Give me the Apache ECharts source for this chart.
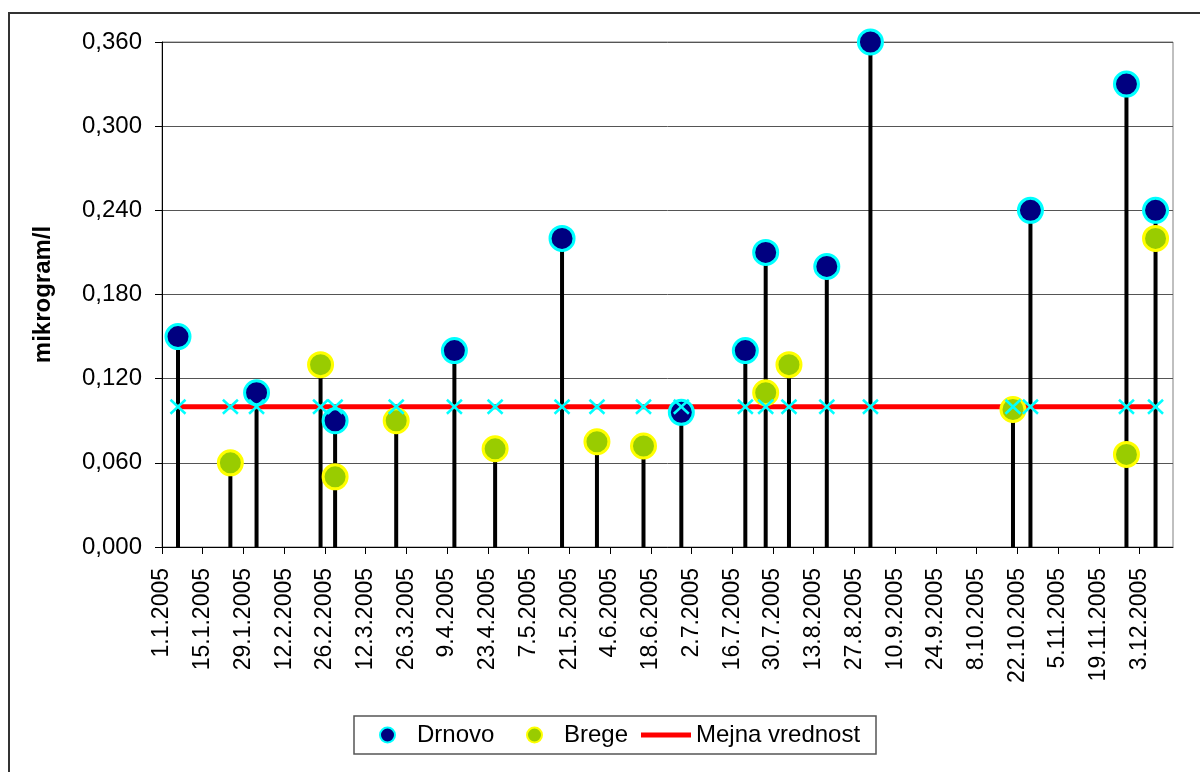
<!DOCTYPE html>
<html>
<head>
<meta charset="utf-8">
<script src="https://cdn.jsdelivr.net/npm/echarts@6/dist/echarts.min.js"></script>
<style>
  html, body { margin: 0; padding: 0; background: #fff; }
  #chart { width: 1200px; height: 772px; }
</style>
</head>
<body>
<div id="chart"></div>
<script>
// Sampling dates (d.m.yyyy) and measured concentrations in µg/l
const sampleDates = ['6.1.2005', '24.1.2005', '2.2.2005', '24.2.2005', '1.3.2005', '22.3.2005',
  '11.4.2005', '25.4.2005', '18.5.2005', '30.5.2005', '15.6.2005', '28.6.2005', '20.7.2005',
  '27.7.2005', '4.8.2005', '17.8.2005', '1.9.2005', '20.10.2005', '26.10.2005', '28.11.2005', '8.12.2005'];
const drnovo = [0.150, null, 0.110, null, 0.090, null, 0.140, null, 0.220, null, null, 0.096, 0.140,
  0.210, null, 0.200, 0.360, null, 0.240, 0.330, 0.240];
const brege = [null, 0.060, null, 0.130, 0.050, 0.090, null, 0.070, null, 0.075, 0.072, null, null,
  0.110, 0.130, null, null, 0.098, null, 0.066, 0.220];
const mejnaVrednost = [0.1, 0.1, 0.1, 0.1, 0.1, 0.1, 0.1, 0.1, 0.1, 0.1, 0.1, 0.1, 0.1, 0.1, 0.1,
  0.1, 0.1, 0.1, 0.1, 0.1, 0.1];

// Date-axis tick labels (every 14 days)
const tickDates = ['1.1.2005', '15.1.2005', '29.1.2005', '12.2.2005', '26.2.2005', '12.3.2005',
  '26.3.2005', '9.4.2005', '23.4.2005', '7.5.2005', '21.5.2005', '4.6.2005', '18.6.2005', '2.7.2005',
  '16.7.2005', '30.7.2005', '13.8.2005', '27.8.2005', '10.9.2005', '24.9.2005', '8.10.2005',
  '22.10.2005', '5.11.2005', '19.11.2005', '3.12.2005'];

const FONT = "'Liberation Sans', Arial, sans-serif";
const DAY_MS = 86400000;
const YEAR_START = Date.UTC(2005, 0, 1);

// Day number counted from 1.1.2005
function dayOf(s) {
  const [d, m, y] = s.split('.').map(Number);
  return (Date.UTC(y, m - 1, d) - YEAR_START) / DAY_MS;
}

const tickDays = tickDates.map(dayOf);
// Each sample is placed in the middle of its day slot on the date axis
const sampleX = sampleDates.map(s => dayOf(s) + 0.5);

function pairs(values) {
  const out = [];
  values.forEach((v, i) => { if (v != null) out.push([sampleX[i], v]); });
  return out;
}

const stemData = sampleX.map((x, i) => [x, Math.max(drnovo[i] ?? 0, brege[i] ?? 0)]);
const limitData = sampleX.map((x, i) => [x, mejnaVrednost[i]]);

const legendText = { fontSize: 24, color: '#000', fontFamily: FONT, lineHeight: 26 };

const chart = echarts.init(document.getElementById('chart'), null, { renderer: 'canvas' });

chart.setOption({
  animation: false,
  backgroundColor: '#fff',
  textStyle: { fontFamily: FONT },
  graphic: [
    {
      // outer chart frame
      type: 'rect',
      shape: { x: 9, y: 13, width: 1300, height: 900 },
      style: { fill: 'none', stroke: '#333', lineWidth: 2 },
      silent: true
    },
    {
      // legend box
      type: 'rect',
      shape: { x: 354, y: 716, width: 522, height: 38 },
      style: { fill: '#fff', stroke: '#555', lineWidth: 1.5 },
      silent: true,
      z: 0
    }
  ],
  grid: {
    left: 162, right: 27, top: 42, bottom: 225,
    show: true, borderColor: '#808080', borderWidth: 1, backgroundColor: 'transparent'
  },
  legend: [
    {
      left: 379, top: 722, padding: 0,
      itemWidth: 15, itemHeight: 15,
      textStyle: Object.assign({ padding: [0, 0, 0, 17] }, legendText),
      data: [{ name: 'Drnovo', icon: 'circle', itemStyle: { borderWidth: 2 } }]
    },
    {
      left: 526, top: 722, padding: 0,
      itemWidth: 15, itemHeight: 15,
      textStyle: Object.assign({ padding: [0, 0, 0, 17] }, legendText),
      data: [{ name: 'Brege', icon: 'circle', itemStyle: { borderWidth: 2 } }]
    },
    {
      left: 641, top: 722, padding: 0,
      itemWidth: 50, itemHeight: 14,
      textStyle: legendText,
      data: [{
        name: 'Mejna vrednost',
        icon: 'path://M0,0H50V5H0Z',
        itemStyle: { color: '#FF0000', borderWidth: 0 }
      }]
    }
  ],
  xAxis: {
    type: 'value',
    min: 0, max: 347.5,
    axisLine: { show: true, onZero: false, lineStyle: { color: '#000', width: 1 } },
    axisTick: { show: true, length: 7, lineStyle: { color: '#000' }, customValues: tickDays },
    axisLabel: {
      rotate: 90, margin: 21, fontSize: 23, color: '#000', fontFamily: FONT,
      customValues: tickDays,
      formatter: v => { const i = tickDays.indexOf(v); return i >= 0 ? tickDates[i] : ''; }
    },
    splitLine: { show: false }
  },
  yAxis: {
    type: 'value',
    min: 0, max: 0.36, interval: 0.06,
    name: 'mikrogram/l',
    nameLocation: 'middle', nameGap: 107,
    nameTextStyle: { fontSize: 24, fontWeight: 'bold', color: '#000', fontFamily: FONT },
    axisLine: { show: true, lineStyle: { color: '#000', width: 1 } },
    axisTick: { show: true, length: 7, lineStyle: { color: '#000' } },
    axisLabel: {
      margin: 20, fontSize: 24, color: '#000', fontFamily: FONT,
      formatter: v => v.toFixed(3).replace('.', ',')
    },
    splitLine: { show: true, lineStyle: { color: '#555', width: 1 } }
  },
  series: [
    {
      // Drop lines from each sample down to the axis
      type: 'custom',
      name: 'stems',
      z: 1,
      silent: true,
      data: stemData,
      renderItem: (params, api) => {
        const x = api.value(0);
        const p0 = api.coord([x, 0]);
        const p1 = api.coord([x, api.value(1)]);
        return {
          type: 'line',
          shape: { x1: p0[0], y1: p0[1], x2: p1[0], y2: p1[1] },
          style: { stroke: '#000', lineWidth: 4 }
        };
      }
    },
    {
      name: 'Mejna vrednost',
      type: 'line',
      z: 2,
      data: limitData,
      showSymbol: false,
      symbol: 'none',
      lineStyle: { color: '#FF0000', width: 5 },
      itemStyle: { color: '#FF0000' }
    },
    {
      name: 'Drnovo',
      type: 'scatter',
      z: 3,
      data: pairs(drnovo),
      symbol: 'circle',
      symbolSize: 24,
      itemStyle: { color: '#000080', borderColor: '#00FFFF', borderWidth: 3, opacity: 1 }
    },
    {
      name: 'Brege',
      type: 'scatter',
      z: 4,
      data: pairs(brege),
      symbol: 'circle',
      symbolSize: 24,
      itemStyle: { color: '#99CC00', borderColor: '#FFFF00', borderWidth: 3, opacity: 1 }
    },
    {
      // Cross markers on the limit line at every sampling date
      type: 'custom',
      name: 'limitMarks',
      z: 5,
      silent: true,
      data: limitData,
      renderItem: (params, api) => {
        const c = api.coord([api.value(0), api.value(1)]);
        const hw = 7.5, hh = 7;
        const style = { stroke: '#00FFFF', lineWidth: 2.5 };
        return {
          type: 'group',
          children: [
            { type: 'line', shape: { x1: c[0] - hw, y1: c[1] - hh, x2: c[0] + hw, y2: c[1] + hh }, style },
            { type: 'line', shape: { x1: c[0] - hw, y1: c[1] + hh, x2: c[0] + hw, y2: c[1] - hh }, style }
          ]
        };
      }
    }
  ]
});
</script>
</body>
</html>
